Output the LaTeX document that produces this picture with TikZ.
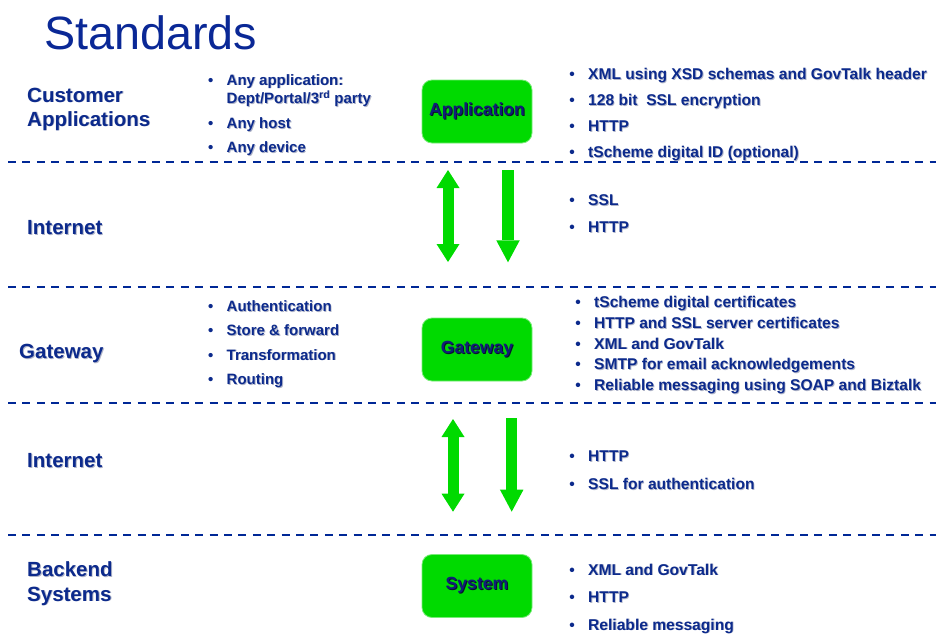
\documentclass[tikz,border=0pt]{standalone}
\usepackage{fontspec}
\setmainfont{Liberation Sans}
\usetikzlibrary{arrows.meta}
\definecolor{navy}{RGB}{12,42,140}
\definecolor{titleblue}{RGB}{10,40,150}
\definecolor{boxtxt}{RGB}{16,30,120}
\definecolor{boxshadow}{RGB}{10,20,40}
\definecolor{gfill}{RGB}{0,218,0}
\definecolor{gborder}{RGB}{120,235,120}
\definecolor{dashblue}{RGB}{0,40,150}
\definecolor{txtshadow}{RGB}{175,180,200}
\newcommand{\shtext}[1]{\rlap{\kern1pt\raisebox{-1pt}{\textcolor{boxshadow}{#1}}}\textcolor{boxtxt}{#1}}
\newcommand{\tsh}[1]{\rlap{\kern0.9pt\raisebox{-0.9pt}{\textcolor{txtshadow}{#1}}}#1}
\newcommand{\bul}{\llap{\textbullet\hspace{13.4pt}}}
\tikzset{
  sep/.style={draw=dashblue, line width=2.6pt, dash pattern=on 8pt off 6.4pt},
  lbl/.style={anchor=base west, inner sep=0pt, text=navy, font=\fontsize{20.5}{24}\selectfont\bfseries},
  lst/.style={anchor=base west, inner sep=0pt, text=navy, font=\fontsize{15}{18}\selectfont\bfseries},
  rlst/.style={lst, font=\fontsize{15.6}{18}\selectfont\bfseries},
  gbox/.style={draw=gborder, line width=0.8pt, fill=gfill, rounded corners=10pt, minimum width=110pt, minimum height=63pt, inner sep=0pt, font=\fontsize{17.6}{20}\selectfont\bfseries},
  dbl/.style={draw=gfill, line width=11pt, {Triangle[width=23pt,length=18pt,line width=0pt]}-{Triangle[width=23pt,length=18pt,line width=0pt]}},
  sgl/.style={draw=gfill, line width=11.3pt, -{Triangle[width=23.5pt,length=22pt,line width=0pt]}}
}
\begin{document}
\begin{tikzpicture}[x=1pt,y=-1pt]
\useasboundingbox (0,0) rectangle (936,634);
% title
\node[anchor=base west, inner sep=0pt, text=titleblue, font=\fontsize{46.7}{50}\selectfont] (title) at (44,49) {Standards};
% separators
\coordinate (s1a) at (8,162); \coordinate (s1b) at (936,162);
\coordinate (s2a) at (8,287); \coordinate (s2b) at (936,287);
\coordinate (s3a) at (8,403); \coordinate (s3b) at (936,403);
\coordinate (s4a) at (8,535); \coordinate (s4b) at (936,535);
\draw[sep] (s1a) -- (s1b);
\draw[sep] (s2a) -- (s2b);
\draw[sep] (s3a) -- (s3b);
\draw[sep] (s4a) -- (s4b);
% left labels
\node[lbl] (l1a) at (27,102) {\tsh{Customer}};
\node[lbl] (l1b) at (27,126) {\tsh{Applications}};
\node[lbl] (l2) at (27,234.5) {\tsh{Internet}};
\node[lbl] (l3) at (19,358.3) {\tsh{Gateway}};
\node[lbl] (l4) at (27,467.5) {\tsh{Internet}};
\node[lbl] (l5a) at (27,576.5) {\tsh{Backend}};
\node[lbl] (l5b) at (27,601) {\tsh{Systems}};
% middle lists
\node[lst] (m1a) at (226.5,85) {\bul\tsh{Any application:}};
\node[lst] (m1a2) at (226.5,103.3) {\tsh{Dept/Portal/3\textsuperscript{rd} party}};
\node[lst] (m1b) at (226.5,128.3) {\bul\tsh{Any host}};
\node[lst] (m1c) at (226.5,152.3) {\bul\tsh{Any device}};
\node[lst] (m2a) at (226.5,311.5) {\bul\tsh{Authentication}};
\node[lst] (m2b) at (226.5,335.5) {\bul\tsh{Store \& forward}};
\node[lst] (m2c) at (226.5,360) {\bul\tsh{Transformation}};
\node[lst] (m2d) at (226.5,384.3) {\bul\tsh{Routing}};
% boxes
\node[gbox] (app) at (477,111.5) {\shtext{Application}};
\node[gbox] (gw) at (477,349.5) {\shtext{Gateway}};
\node[gbox] (sys) at (477,586) {\shtext{System}};
% arrows internet 1
\coordinate (d1t) at (448,170); \coordinate (d1b) at (448,262);
\coordinate (a1t) at (508,170); \coordinate (a1b) at (508,262.3);
\draw[dbl] (d1t) -- (d1b);
\draw[sgl] (a1t) -- (a1b);
% arrows internet 2
\coordinate (d2t) at (453,419); \coordinate (d2b) at (453,511.7);
\coordinate (a2t) at (511.7,418.3); \coordinate (a2b) at (511.7,511.7);
\draw[dbl] (d2t) -- (d2b);
\draw[sgl] (a2t) -- (a2b);
% right lists
\node[rlst] (r1a) at (588,79.5) {\bul\tsh{XML using XSD schemas and GovTalk header}};
\node[rlst] (r1b) at (588,105.5) {\bul\tsh{128 bit\ \ SSL encryption}};
\node[rlst] (r1c) at (588,131.5) {\bul\tsh{HTTP}};
\node[rlst] (r1d) at (588,157.5) {\bul\tsh{tScheme digital ID (optional)}};
\node[rlst] (r2a) at (588,205.5) {\bul\tsh{SSL}};
\node[rlst] (r2b) at (588,232.7) {\bul\tsh{HTTP}};
\node[rlst] (r3a) at (594,307.5) {\bul\tsh{tScheme digital certificates}};
\node[rlst] (r3b) at (594,328.3) {\bul\tsh{HTTP and SSL server certificates}};
\node[rlst] (r3c) at (594,349) {\bul\tsh{XML and GovTalk}};
\node[rlst] (r3d) at (594,369.8) {\bul\tsh{SMTP for email acknowledgements}};
\node[rlst] (r3e) at (594,390.5) {\bul\tsh{Reliable messaging using SOAP and Biztalk}};
\node[rlst] (r4a) at (588,461.5) {\bul\tsh{HTTP}};
\node[rlst] (r4b) at (588,489.5) {\bul\tsh{SSL for authentication}};
\node[rlst] (r5a) at (588,575) {\bul\tsh{XML and GovTalk}};
\node[rlst] (r5b) at (588,602.7) {\bul\tsh{HTTP}};
\node[rlst] (r5c) at (588,630) {\bul\tsh{Reliable messaging}};
\end{tikzpicture}
\end{document}
